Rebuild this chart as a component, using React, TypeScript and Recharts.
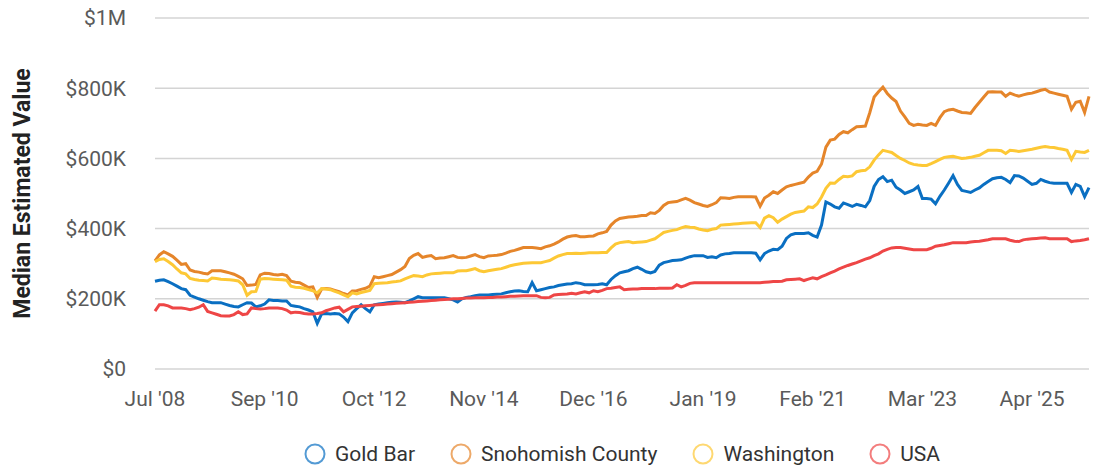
import { LineChart, Line, XAxis, YAxis, CartesianGrid, Legend } from "recharts";

document.body.style.margin = "0";

// tick labels, one every 25 months
const TICK_LABELS = ["Jul '08", "Sep '10", "Oct '12", "Nov '14", "Dec '16", "Jan '19", "Feb '21", "Mar '23", "Apr '25"];
const Y_TICKS = [0, 200, 400, 600, 800, 1000];

// median estimated value, $K, monthly
const GOLD_BAR = [
  250, 253, 254, 249, 243, 236, 229, 226, 210, 205, 200, 196, 192, 189, 189, 189, 185, 181, 178, 177,
  183, 189, 188, 177, 180, 185, 197, 195, 195, 194, 194, 181, 179, 177, 172, 168, 163, 130, 157, 158,
  157, 158, 157, 148, 135, 160, 172, 183, 172, 163, 183, 185, 187, 189, 190, 191, 190, 189, 194, 200,
  206, 203, 203, 203, 203, 203, 203, 200, 197, 191, 200, 204, 206, 209, 211, 211, 211, 212, 213, 214,
  217, 220, 222, 223, 221, 220, 246, 223, 226, 229, 232, 234, 238, 240, 242, 243, 246, 244, 240, 240,
  240, 241, 243, 240, 255, 266, 274, 277, 280, 286, 290, 284, 277, 274, 278, 296, 303, 306, 309, 310,
  311, 316, 320, 323, 323, 323, 318, 320, 317, 325, 328, 329, 331, 331, 331, 331, 331, 330, 311, 329,
  336, 341, 340, 350, 372, 382, 386, 386, 386, 388, 381, 376, 410, 476, 470, 462, 458, 473, 468, 463,
  469, 466, 462, 480, 520, 540, 548, 534, 538, 518, 510, 500, 505, 510, 520, 486, 486, 484, 471, 492,
  510, 530, 551, 526, 509, 506, 503, 510, 516, 526, 534, 542, 545, 546, 540, 531, 551, 550, 544, 535,
  526, 529, 540, 535, 531, 529, 529, 529, 529, 503, 526, 520, 491, 517,
];
const SNOHOMISH = [
  308, 325, 334, 328, 321, 310, 298, 300, 282, 278, 276, 273, 271, 280, 280, 280, 277, 274, 270, 264,
  257, 238, 239, 241, 268, 273, 272, 269, 268, 270, 266, 250, 247, 246, 239, 232, 234, 204, 228, 229,
  228, 224, 220, 215, 211, 222, 223, 227, 230, 236, 263, 260, 263, 266, 269, 276, 283, 292, 315, 324,
  329, 318, 321, 323, 314, 316, 317, 320, 323, 318, 317, 318, 322, 326, 320, 317, 322, 323, 324, 326,
  330, 335, 338, 342, 346, 346, 346, 345, 343, 348, 351, 356, 362, 370, 376, 379, 380, 377, 377, 378,
  379, 385, 388, 392, 410, 422, 429, 431, 433, 434, 435, 437, 437, 445, 443, 452, 466, 474, 476, 477,
  482, 486, 481, 474, 470, 466, 463, 468, 474, 488, 487, 486, 489, 491, 491, 491, 491, 490, 464, 487,
  495, 505, 500, 510, 519, 523, 526, 529, 532, 547, 558, 563, 584, 632, 652, 655, 668, 676, 673, 682,
  690, 691, 692, 730, 775, 790, 803, 785, 772, 762, 735, 718, 700, 694, 697, 695, 694, 700, 694, 716,
  733, 738, 740, 735, 731, 730, 728, 745, 760, 775, 789, 790, 789, 789, 777, 786, 781, 777, 781, 784,
  786, 790, 794, 797, 789, 786, 783, 780, 777, 740, 760, 763, 731, 777,
];
const WASHINGTON = [
  306, 312, 314, 306, 297, 285, 274, 271, 258, 255, 253, 252, 251, 259, 258, 256, 255, 254, 253, 251,
  240, 210, 220, 221, 256, 258, 257, 256, 255, 254, 253, 236, 233, 232, 230, 226, 223, 217, 229, 228,
  226, 221, 217, 211, 206, 217, 214, 218, 221, 224, 243, 244, 245, 246, 248, 249, 251, 257, 262, 266,
  265, 263, 268, 271, 272, 273, 274, 274, 274, 279, 280, 280, 283, 286, 280, 277, 280, 282, 284, 286,
  290, 294, 297, 299, 301, 302, 303, 303, 303, 306, 309, 316, 322, 326, 329, 329, 330, 329, 330, 331,
  331, 331, 332, 332, 345, 356, 360, 362, 363, 360, 361, 362, 363, 367, 371, 380, 389, 392, 395, 397,
  402, 406, 404, 403, 399, 396, 394, 398, 400, 410, 411, 412, 413, 414, 415, 416, 417, 417, 403, 430,
  437, 431, 418, 427, 434, 441, 446, 448, 450, 462, 460, 470, 490, 515, 530, 529, 540, 549, 548, 550,
  562, 565, 566, 576, 595, 610, 623, 620, 617, 608, 600, 594, 587, 583, 581, 580, 580, 585, 591, 597,
  603, 605, 606, 603, 600, 601, 603, 606, 609, 616, 623, 623, 623, 622, 614, 623, 622, 620, 622, 624,
  626, 629, 632, 634, 632, 631, 628, 626, 623, 597, 620, 618, 617, 623,
];
const USA = [
  165, 183, 183, 180, 174, 174, 174, 172, 169, 172, 176, 183, 164, 160, 156, 152, 151, 151, 155, 163,
  155, 157, 174, 172, 171, 172, 174, 174, 174, 172, 168, 160, 162, 161, 158, 157, 157, 158, 160, 166,
  170, 174, 176, 163, 170, 177, 178, 179, 180, 181, 182, 183, 184, 185, 186, 187, 188, 189, 190, 191,
  192, 193, 194, 195, 196, 197, 198, 199, 200, 200, 201, 202, 202, 203, 203, 203, 204, 204, 205, 205,
  206, 207, 207, 208, 209, 209, 209, 209, 204, 203, 204, 211, 212, 213, 214, 216, 214, 217, 220, 217,
  223, 220, 224, 229, 230, 232, 234, 226, 227, 228, 228, 229, 229, 229, 229, 230, 230, 230, 231, 240,
  234, 238, 244, 246, 246, 246, 246, 246, 246, 246, 246, 246, 246, 246, 246, 246, 246, 246, 246, 247,
  248, 249, 249, 250, 254, 255, 256, 257, 252, 256, 260, 257, 263, 268, 274, 279, 285, 290, 295, 299,
  303, 308, 313, 317, 323, 328, 336, 341, 345, 346, 346, 344, 342, 340, 340, 340, 340, 344, 350, 352,
  354, 357, 360, 360, 360, 360, 362, 363, 364, 366, 368, 371, 371, 371, 371, 367, 364, 363, 368, 370,
  371, 372, 373, 374, 371, 371, 371, 371, 371, 363, 365, 366, 368, 371,
];

const SERIES = [
  { key: "gold", name: "Gold Bar", color: "#0A6FC2", values: GOLD_BAR },
  { key: "sno", name: "Snohomish County", color: "#E5852A", values: SNOHOMISH },
  { key: "wa", name: "Washington", color: "#FDC835", values: WASHINGTON },
  { key: "usa", name: "USA", color: "#EE4646", values: USA },
];

const data = GOLD_BAR.map((_, i) => {
  const row: Record<string, number> = { i };
  SERIES.forEach((s) => (row[s.key] = s.values[i]));
  return row;
});

const xTicks = TICK_LABELS.map((_, k) => k * 25);
const fmtY = (v: number) => (v === 0 ? "$0" : v >= 1000 ? `$${v / 1000}M` : `$${v}K`);
const font = "Roboto, 'Noto Sans', sans-serif";
const tick = { fontSize: 21, fill: "#5a5a5a", fontFamily: font };

function LegendBox() {
  return (
    <div
      style={{
        display: "flex",
        justifyContent: "center",
        alignItems: "center",
        gap: 35,
        paddingLeft: 155,
        paddingTop: 22,
        fontFamily: font,
        fontSize: 21,
        color: "#333",
      }}
    >
      {SERIES.map((s) => (
        <div key={s.key} style={{ display: "flex", alignItems: "center" }}>
          <svg width={22} height={22} style={{ marginRight: 9 }}>
            <circle cx={11} cy={11} r={9.5} fill="none" stroke={s.color} strokeOpacity={0.7} strokeWidth={2} />
          </svg>
          <span>{s.name}</span>
        </div>
      ))}
    </div>
  );
}

function YLabel({ viewBox }: any) {
  const cx = viewBox.x + 22;
  const cy = viewBox.y + viewBox.height / 2;
  return (
    <text
      x={cx}
      y={cy}
      transform={`rotate(-90 ${cx} ${cy})`}
      textAnchor="middle"
      dominantBaseline="central"
      style={{ fontFamily: font, fontSize: 23, fontWeight: 700, fill: "#222" }}
    >
      Median Estimated Value
    </text>
  );
}

export default function App() {
  return (
    <LineChart width={1097} height={470} data={data} margin={{ top: 18, right: 8, left: 0, bottom: 5 }}>
      <CartesianGrid stroke="#d4d4d4" strokeWidth={1.5} vertical={false} />
      <XAxis
        dataKey="i"
        type="number"
        domain={[0, GOLD_BAR.length - 1]}
        ticks={xTicks}
        tickFormatter={(v: number) => TICK_LABELS[v / 25]}
        tick={tick}
        tickLine={false}
        axisLine={false}
        tickSize={0}
        tickMargin={22}
        height={51}
        interval={0}
      />
      <YAxis
        domain={[0, 1000]}
        ticks={Y_TICKS}
        tickFormatter={fmtY}
        tick={tick}
        tickLine={false}
        axisLine={false}
        tickSize={0}
        tickMargin={29}
        width={155}
        label={{ content: YLabel }}
      />
      <Legend verticalAlign="bottom" height={45} content={() => <LegendBox />} />
      {SERIES.map((s) => (
        <Line
          key={s.key}
          dataKey={s.key}
          name={s.name}
          type="linear"
          stroke={s.color}
          strokeWidth={3}
          dot={false}
          isAnimationActive={false}
        />
      ))}
    </LineChart>
  );
}
